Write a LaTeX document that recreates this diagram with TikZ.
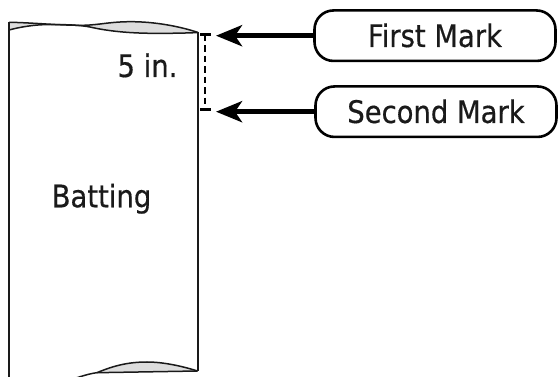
\documentclass[tikz,border=0pt]{standalone}
\usepackage{fontspec}
\setmainfont[FakeStretch=0.885,FakeBold=0.5]{DejaVu Sans}
\usetikzlibrary{arrows.meta}
\definecolor{inkc}{HTML}{1A1A1A}
\definecolor{curlc}{HTML}{DDDDDD}
\tikzset{
  sheetline/.style={draw=inkc, line width=1.5pt},
  curlfill/.style={fill=curlc},
  markbox/.style={draw=black, line width=2.6pt, rounded corners=19pt, minimum width=241pt, minimum height=50.5pt, inner sep=0pt, text height=22.5pt, text depth=0pt, text=inkc, font=\fontsize{31}{36}\selectfont},
  lbl/.style={inner sep=0pt, anchor=base, text=inkc, font=\fontsize{31}{36}\selectfont},
  bigarrow/.style={draw=black, line width=5pt, -{Stealth[length=26pt,width=21pt,inset=7pt]}},
  dimline/.style={draw=black, line width=2.4pt, dash pattern=on 6.5pt off 4pt},
  dimtick/.style={draw=black, line width=2.4pt}
}
\begin{document}
\begin{tikzpicture}[x=1pt,y=-1pt]
\useasboundingbox (0,0) rectangle (558,377);
\begin{scope}
\clip (0,0) rectangle (558,377);
% top curl: gray fill between upper and lower curves
\fill[curlfill] (9,22.3) .. controls (30,22.5) and (60,25.5) .. (83,25.3)
  .. controls (100,25) and (110,21.5) .. (133,21.7)
  .. controls (160,22) and (185,28) .. (198,32.5)
  .. controls (190,33) and (170,33.5) .. (150,33.3)
  .. controls (125,33) and (105,30.5) .. (90,27)
  .. controls (80,25) and (65,24.5) .. (50,24.5)
  .. controls (35,24.5) and (20,27) .. (9,30) -- cycle;
\draw[sheetline] (9,22.3) .. controls (30,22.5) and (60,25.5) .. (83,25.3)
  .. controls (100,25) and (110,21.5) .. (133,21.7)
  .. controls (160,22) and (185,28) .. (198,32.5);
\draw[sheetline] (9,30) .. controls (20,27) and (35,24.5) .. (50,24.5)
  .. controls (65,24.5) and (80,25) .. (90,27)
  .. controls (105,30.5) and (125,33) .. (150,33.3)
  .. controls (170,33.5) and (190,33) .. (198,32.5);
% bottom curl
\fill[curlfill] (97,372.7) .. controls (115,365) and (130,362) .. (147,362)
  .. controls (165,362) and (185,367) .. (197.5,371) -- cycle;
\draw[sheetline] (97,372.7) .. controls (115,365) and (130,362) .. (147,362)
  .. controls (165,362) and (185,367) .. (197.5,371);
\draw[sheetline] (70,380) .. controls (82,376) and (90,373.5) .. (97,372.7) -- (197.5,371);
% sheet sides
\draw[sheetline] (9,22.3) -- (9,380);
\draw[sheetline] (198,32.5) -- (198,371);
\end{scope}
% labels on the sheet
\node[lbl] (five) at (147.5,77) {5 in.};
\node[lbl] (batting) at (101.5,207.3) {Batting};
% dimension
\coordinate (d1) at (205,34.7);
\coordinate (d2) at (205,109.5);
\draw[dimline] (d1) -- (d2);
\draw[dimtick] ([xshift=-5pt]d1) -- ([xshift=5.5pt]d1);
\draw[dimtick] ([xshift=-5pt]d2) -- ([xshift=5.5pt]d2);
% boxes
\node[markbox] (b1) at (435,35.7) {First Mark};
\node[markbox] (b2) at (436,111.7) {Second Mark};
\coordinate (t1) at (216,35.7);
\coordinate (t2) at (216,111.7);
\draw[bigarrow] (b1.west) -- (t1);
\draw[bigarrow] (b2.west) -- (t2);
\end{tikzpicture}
\end{document}
